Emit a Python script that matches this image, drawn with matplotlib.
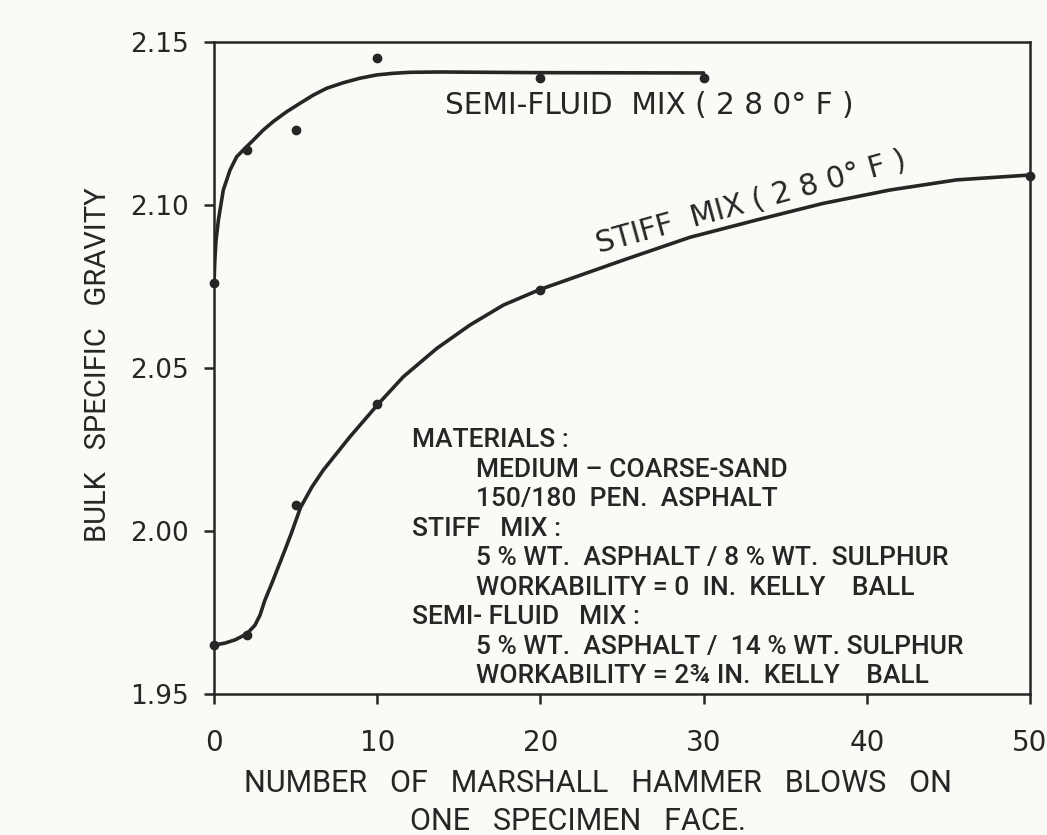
import matplotlib
matplotlib.use("Agg")
import matplotlib.pyplot as plt

# blows per face vs. bulk specific gravity, measured specimens
semi_blows = [0, 2, 5, 10, 20, 30]
semi_sg = [2.076, 2.117, 2.123, 2.145, 2.139, 2.139]
stiff_blows = [0, 2, 5, 10, 20, 50]
stiff_sg = [1.965, 1.968, 2.008, 2.039, 2.074, 2.109]

# hand-faired curves through the measurements
semi_fit_x = [0, 0.05, 0.12, 0.27, 0.57, 0.98, 1.39, 1.9, 2.41, 3.02,
              3.63, 4.45, 5.27, 6.08, 6.9, 7.92, 8.95, 9.97, 10.99, 12.0,
              13.85, 19.77, 30]
semi_fit_y = [2.076, 2.083, 2.089, 2.0954, 2.1046, 2.1107, 2.1148, 2.1174,
              2.1199, 2.123, 2.1256, 2.1286, 2.1312, 2.1337, 2.1358, 2.1375,
              2.1389, 2.1399, 2.1404, 2.1407, 2.1408, 2.1406, 2.1405]
stiff_fit_x = [0, 0.67, 1.29, 2.0, 2.51, 2.82, 3.12, 3.54, 3.94, 4.35,
               4.76, 5.3, 6.0, 6.7, 8.33, 10.07, 11.6, 13.65, 15.69, 17.73,
               19.98, 25.08, 29.17, 33.25, 37.33, 41.42, 45.5, 50]
stiff_fit_y = [1.965, 1.9656, 1.9666, 1.9684, 1.9711, 1.9742, 1.9788,
               1.9839, 1.989, 1.9942, 1.9996, 2.0072, 2.0135, 2.0187,
               2.0289, 2.039, 2.0473, 2.056, 2.0632, 2.0693, 2.0741,
               2.0831, 2.0901, 2.0954, 2.1005, 2.1046, 2.1077, 2.1092]

x_ticks = [0, 10, 20, 30, 40, 50]
y_ticks = [1.95, 2.00, 2.05, 2.10, 2.15]
y_tick_labels = ["1.95", "2.00", "2.05", "2.10", "2.15"]

notes = [
    (0, "MATERIALS :"),
    (1, "MEDIUM \u2013 COARSE-SAND"),
    (1, "150/180  PEN.  ASPHALT"),
    (0, "STIFF   MIX :"),
    (1, "5 % WT.  ASPHALT / 8 % WT.  SULPHUR"),
    (1, "WORKABILITY = 0  IN.  KELLY    BALL"),
    (0, "SEMI- FLUID   MIX :"),
    (1, "5 % WT.  ASPHALT /  14 % WT. SULPHUR"),
    (1, "WORKABILITY = 2\u00be IN.  KELLY    BALL"),
]

ink = "#262626"
paper = "#fafaf6"
letter = "Roboto"

fig = plt.figure(figsize=(10.47, 8.35), dpi=100, facecolor=paper)
ax = fig.add_axes([0.2044, 0.1689, 0.7794, 0.7808])
ax.set_facecolor(paper)

ax.plot(semi_fit_x, semi_fit_y, color=ink, lw=2.6,
        solid_capstyle="round", solid_joinstyle="round")
ax.plot(stiff_fit_x, stiff_fit_y, color=ink, lw=2.6,
        solid_capstyle="round", solid_joinstyle="round")
ax.plot(semi_blows, semi_sg, "o", color=ink, ms=6, clip_on=False)
ax.plot(stiff_blows, stiff_sg, "o", color=ink, ms=6, clip_on=False)

ax.set_xlim(0, 50)
ax.set_ylim(1.95, 2.15)
ax.set_xticks(x_ticks)
ax.set_yticks(y_ticks)
ax.set_yticklabels(y_tick_labels)
for s in ax.spines.values():
    s.set_linewidth(1.8)
    s.set_color(ink)
ax.tick_params(axis="both", direction="out", length=7, width=1.8, color=ink,
               labelcolor=ink)
ax.tick_params(axis="y", pad=11, labelsize=19)
ax.tick_params(axis="x", pad=18, labelsize=20)

# curve labels
ax.text(14.15, 2.1304, "SEMI-FLUID  MIX ( 2 8 0\u00b0 F )", fontsize=21.3,
        color=ink, ha="left", va="center")
ax.text(32.9, 2.1009, "STIFF  MIX ( 2 8 0\u00b0 F )", fontsize=21.3,
        color=ink, ha="center", va="center", rotation=15.4,
        rotation_mode="anchor")

# materials note
y0 = 2.0279
step = 29.5 / 3260
for i, (indent, line) in enumerate(notes):
    ax.text(12.13 + indent * 3.9, y0 - i * step, line, fontsize=19,
            color=ink, ha="left", va="center", family=letter,
            fontweight="medium")

fig.text(98 / 1047, 1 - 365 / 835, "BULK   SPECIFIC   GRAVITY", rotation=90,
         ha="center", va="center", fontsize=21, color=ink, family=letter)
fig.text(598 / 1047, 1 - 783 / 835, "NUMBER   OF   MARSHALL   HAMMER   BLOWS   ON",
         ha="center", va="center", fontsize=22, color=ink, family=letter)
fig.text(578 / 1047, 1 - 822 / 835, "ONE   SPECIMEN   FACE.",
         ha="center", va="center", fontsize=22, color=ink, family=letter)

fig.savefig("out.png", dpi=100, facecolor=paper)
